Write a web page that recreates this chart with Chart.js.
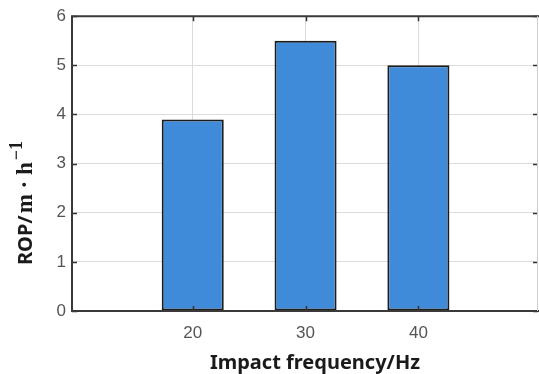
<!DOCTYPE html>
<html><head><meta charset="utf-8">
<script src="https://cdn.jsdelivr.net/npm/chart.js@4/dist/chart.umd.min.js"></script>
<style>html,body{margin:0;padding:0;background:#fff}#wrap{width:539px;height:374px;position:relative}</style>
</head><body><div id="wrap"><canvas id="c" width="539" height="374"></canvas></div>
<script>
const frequencies = [20, 30, 40];
const ropValues = [3.9, 5.5, 5.0];
const yTicks = [0, 1, 2, 3, 4, 5, 6];
const xTicks = [20, 30, 40];
const xTitle = 'Impact frequency/Hz';
const yTitleParts = ['ROP/', 'm · h', '−1'];

const boxPlugin = {
  id: 'box',
  afterDraw(chart) {
    const {ctx, chartArea: a, scales: {x, y}} = chart;
    ctx.save();
    ctx.strokeStyle = '#333';
    ctx.lineWidth = 1.5;
    ctx.beginPath();
    yTicks.forEach(v => {
      const py = Math.round(y.getPixelForValue(v)) + 0.5;
      ctx.moveTo(a.left, py); ctx.lineTo(a.left + 5, py);
      ctx.moveTo(a.right, py); ctx.lineTo(a.right - 5, py);
    });
    xTicks.forEach(v => {
      const px = Math.round(x.getPixelForValue(v)) + 0.5;
      ctx.moveTo(px, a.bottom); ctx.lineTo(px, a.bottom - 5);
      ctx.moveTo(px, a.top); ctx.lineTo(px, a.top + 5);
    });
    ctx.stroke();
    ctx.strokeStyle = '#3a3a3a';
    ctx.lineWidth = 2;
    ctx.beginPath();
    ctx.moveTo(a.left, a.bottom); ctx.lineTo(a.left, a.top); ctx.lineTo(a.right + 2, a.top);
    ctx.moveTo(a.left - 1, a.bottom); ctx.lineTo(a.right + 2, a.bottom);
    ctx.stroke();
    ctx.strokeStyle = '#cfcfcf';
    ctx.lineWidth = 1;
    ctx.beginPath();
    ctx.moveTo(a.right - 0.5, a.top); ctx.lineTo(a.right - 0.5, a.bottom);
    ctx.stroke();
    ctx.fillStyle = '#1a1a1a';
    ctx.font = 'bold 20px "Noto Sans", "Open Sans", sans-serif';
    ctx.textAlign = 'center';
    ctx.textBaseline = 'alphabetic';
    ctx.fillText(xTitle, 315, 369);
    ctx.translate(32, 265);
    ctx.rotate(-Math.PI / 2);
    ctx.textAlign = 'left';
    let cx = 0;
    ctx.font = 'bold 20px "Noto Sans", "Open Sans", sans-serif';
    ctx.fillText(yTitleParts[0], cx, 0);
    cx += ctx.measureText(yTitleParts[0]).width + 2;
    ctx.font = 'bold 23px "Liberation Serif", "Times New Roman", serif';
    ctx.fillText(yTitleParts[1], cx, 0);
    cx += ctx.measureText(yTitleParts[1]).width + 2;
    ctx.font = 'bold 18px "Liberation Serif", "Times New Roman", serif';
    ctx.fillText(yTitleParts[2], cx, -10);
    ctx.restore();
  }
};

new Chart(document.getElementById('c'), {
  type: 'bar',
  data: {
    datasets: [{
      data: frequencies.map((f, i) => ({x: f, y: ropValues[i]})),
      backgroundColor: '#3f8ad9',
      borderColor: '#1c1c1c',
      borderWidth: 2,
      borderSkipped: false,
      categoryPercentage: 1,
      barPercentage: 0.55
    }]
  },
  options: {
    responsive: false,
    animation: false,
    layout: {padding: {left: 0, top: 16, right: 1, bottom: 0}},
    plugins: {legend: {display: false}, tooltip: {enabled: false}},
    scales: {
      x: {
        type: 'linear',
        offset: false,
        min: 9.3,
        max: 50.6,
        afterBuildTicks(s) { s.ticks = xTicks.map(v => ({value: v})); },
        afterFit(s) { s.height = 63; },
        grid: {color: '#dcdcdc', lineWidth: 1, drawTicks: false, offset: false},
        border: {display: false},
        ticks: {color: '#555', font: {family: '"Liberation Sans", Arial, sans-serif', size: 17}, padding: 12}
      },
      y: {
        min: 0,
        max: 6,
        afterBuildTicks(s) { s.ticks = yTicks.map(v => ({value: v})); },
        afterFit(s) { s.width = 72; },
        grid: {color: '#dcdcdc', lineWidth: 1, drawTicks: false},
        border: {display: false},
        ticks: {color: '#555', font: {family: '"Liberation Sans", Arial, sans-serif', size: 17}, padding: 6}
      }
    }
  },
  plugins: [boxPlugin]
});
</script></body></html>
